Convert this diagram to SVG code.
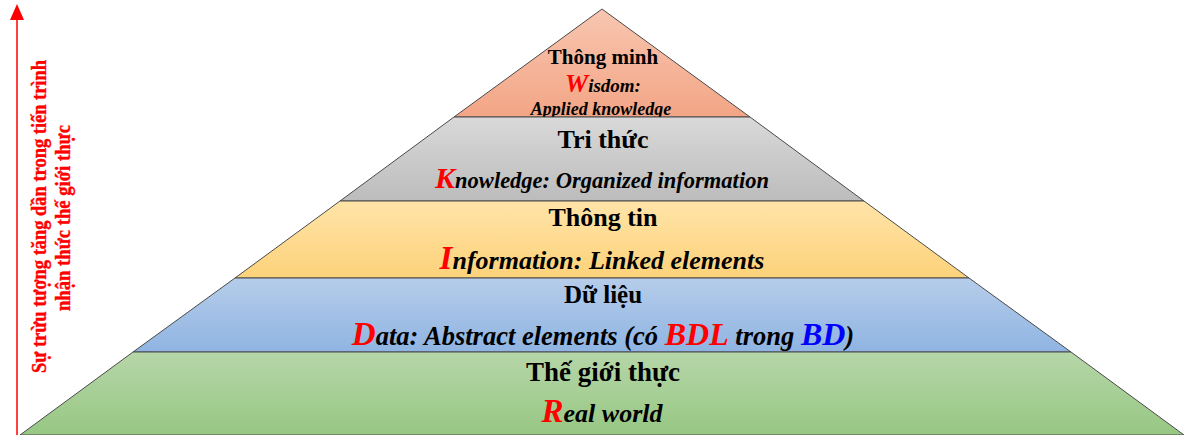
<svg xmlns="http://www.w3.org/2000/svg" width="1190" height="435" viewBox="0 0 1190 435">
  <defs>
    <linearGradient id="gW" x1="0" y1="0" x2="0" y2="1">
      <stop offset="0" stop-color="#f8c6b1"/>
      <stop offset="1" stop-color="#f3a585"/>
    </linearGradient>
    <linearGradient id="gK" x1="0" y1="0" x2="0" y2="1">
      <stop offset="0" stop-color="#d9d9d9"/>
      <stop offset="1" stop-color="#bcbcbc"/>
    </linearGradient>
    <linearGradient id="gI" x1="0" y1="0" x2="0" y2="1">
      <stop offset="0" stop-color="#ffe4a8"/>
      <stop offset="1" stop-color="#fdd27a"/>
    </linearGradient>
    <linearGradient id="gD" x1="0" y1="0" x2="0" y2="1">
      <stop offset="0" stop-color="#b6cdea"/>
      <stop offset="1" stop-color="#8fb4e2"/>
    </linearGradient>
    <linearGradient id="gR" x1="0" y1="0" x2="0" y2="1">
      <stop offset="0" stop-color="#b6d6a8"/>
      <stop offset="1" stop-color="#97c783"/>
    </linearGradient>
    <style>
      .layer { stroke: #4a4a4a; stroke-width: 1; }
      .title { font-family: "Liberation Serif", "Times New Roman", serif; font-weight: bold; fill: #000; text-anchor: middle; }
      .desc { font-family: "Liberation Serif", "Times New Roman", serif; font-weight: bold; font-style: italic; fill: #000; text-anchor: middle; }
      .red { fill: #ff0000; }
      .blue { fill: #0000ff; }
      .axis { font-family: "Liberation Serif", "Times New Roman", serif; font-weight: bold; fill: #ff0000; font-size: 20px; stroke: #ff0000; stroke-width: 0.4; }
    </style>
  </defs>

  <!-- abstraction axis -->
  <g id="axis">
    <line x1="17" y1="435" x2="17" y2="20" stroke="#ff0000" stroke-width="1.5"/>
    <path d="M10,20 L17,4 L24,20 Z" fill="#ff0000"/>
    <text class="axis" transform="translate(46,373) rotate(-90)" textLength="313" lengthAdjust="spacingAndGlyphs">Sự trừu tượng tăng dần trong tiến trình</text>
    <text class="axis" transform="translate(70,311) rotate(-90)" textLength="186" lengthAdjust="spacingAndGlyphs">nhận thức thế giới thực</text>
  </g>

  <!-- wisdom (apex) -->
  <g id="wisdom">
    <path class="layer" d="M602,9 L750,117 L454,117 Z" fill="url(#gW)"/>
    <text class="title" x="603" y="64" font-size="21">Thông minh</text>
    <text class="desc" x="603" y="92" font-size="19"><tspan class="red" font-size="26">W</tspan>isdom:</text>
    <text class="desc" x="601" y="115" font-size="18">Applied knowledge</text>
  </g>

  <!-- knowledge -->
  <g id="knowledge">
    <path class="layer" d="M454,117 L750,117 L864,201 L340,201 Z" fill="url(#gK)"/>
    <text class="title" x="603" y="148" font-size="26">Tri thức</text>
    <text class="desc" x="602" y="188" font-size="22.5"><tspan class="red" font-size="30">K</tspan>nowledge: Organized information</text>
  </g>

  <!-- information -->
  <g id="information">
    <path class="layer" d="M340,201 L864,201 L969,278 L235,278 Z" fill="url(#gI)"/>
    <text class="title" x="603" y="226" font-size="26">Thông tin</text>
    <text class="desc" x="602" y="269" font-size="26"><tspan class="red" font-size="33">I</tspan>nformation: Linked elements</text>
  </g>

  <!-- data -->
  <g id="data">
    <path class="layer" d="M235,278 L969,278 L1071,352 L133,352 Z" fill="url(#gD)"/>
    <text class="title" x="603" y="303" font-size="25">Dữ liệu</text>
    <text class="desc" x="603" y="345" font-size="26.5"><tspan class="red" font-size="33">D</tspan>ata: Abstract elements (có <tspan class="red" font-size="32">BDL</tspan> trong <tspan class="blue" font-size="32">BD</tspan>)</text>
  </g>

  <!-- real world (base) -->
  <g id="real-world">
    <path class="layer" d="M133,352 L1071,352 L1184,435 L20,435 Z" fill="url(#gR)"/>
    <text class="title" x="603" y="381" font-size="27">Thế giới thực</text>
    <text class="desc" x="602" y="422" font-size="26"><tspan class="red" font-size="33">R</tspan>eal world</text>
  </g>
</svg>
